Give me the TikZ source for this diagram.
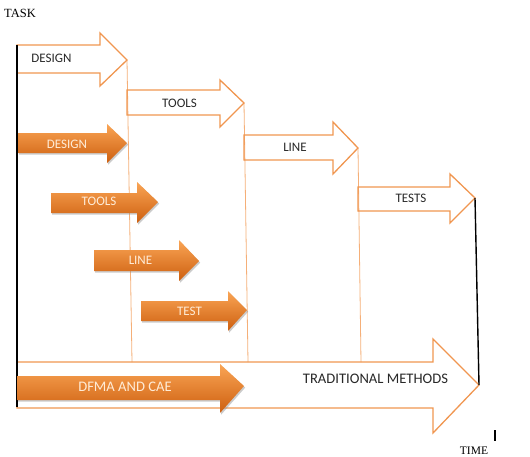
\documentclass[tikz,border=0pt]{standalone}
\usepackage{fontspec}
\setmainfont{Liberation Serif}
\newfontfamily\carl{Carlito}
\definecolor{outor}{RGB}{240,150,80}
\definecolor{thinor}{RGB}{245,175,120}
\definecolor{ortop}{RGB}{250,165,85}
\definecolor{ormid}{RGB}{242,130,38}
\definecolor{orbot}{RGB}{205,95,15}
\definecolor{wtext}{RGB}{255,236,215}
\definecolor{dtext}{RGB}{40,40,40}
% #1 options, #2 x0, #3 body top, #4 body bottom, #5 head base x, #6 head top, #7 head bottom, #8 tip x, #9 tip y
\newcommand{\outarrow}[9]{\draw[#1] (#2,#3) -- (#5,#3) -- (#5,#6) -- (#8,#9) -- (#5,#7) -- (#5,#4) -- (#2,#4) -- cycle;}
\newcommand{\solidarrow}[8]{%
  \fill[black!45,opacity=0.45,xshift=1.2pt,yshift=-1.6pt] (#1,#2) -- (#4,#2) -- (#4,#5) -- (#7,#8) -- (#4,#6) -- (#4,#3) -- (#1,#3) -- cycle;
  \shade[top color=ortop,middle color=ormid,bottom color=orbot] (#1,#2) -- (#4,#2) -- (#4,#5) -- (#7,#8) -- (#4,#6) -- (#4,#3) -- (#1,#3) -- cycle;}
\tikzset{
  outl/.style={draw=outor,line width=1.3pt,line join=miter},
  thin/.style={draw=thinor,line width=0.8pt},
  axis/.style={draw=black,line width=1.4pt},
  otext/.style={font=\carl\fontsize{13}{15}\selectfont,text=dtext,inner sep=0pt},
  ftext/.style={font=\carl\fontsize{13}{15}\selectfont,text=wtext,inner sep=0pt},
  bigtext/.style={font=\carl\fontsize{14.6}{16}\selectfont,inner sep=0pt},
  ltext/.style={font=\fontsize{12.5}{14}\selectfont,text=black,inner sep=0pt}
}
\begin{document}
\begin{tikzpicture}[x=1pt,y=-1pt]
\useasboundingbox (0,0) rectangle (530,456);
% thin guide lines
\coordinate (p1) at (127,60);
\coordinate (p2) at (244,103);
\coordinate (p3) at (358,148);
\coordinate (q1) at (132,362);
\coordinate (q2) at (248,362);
\coordinate (q3) at (361,362);
\draw[thin] (p1) -- (q1);
\draw[thin] (p2) -- (q2);
\draw[thin] (p3) -- (q3);
% outline arrows
\outarrow{outl}{17}{45}{73}{100}{33}{86}{127}{60}
\outarrow{outl}{127}{90}{115}{220}{80}{127}{244}{103}
\outarrow{outl}{244}{135}{160}{333}{122}{174}{358}{148}
\outarrow{outl}{358}{187}{211}{450}{174}{223}{475}{198}
\outarrow{outl}{17}{362}{408}{433}{339}{433}{479}{385}
% axes
\coordinate (a1) at (17,45);
\coordinate (a2) at (17,407);
\coordinate (b1) at (475,198);
\coordinate (b2) at (479,385);
\coordinate (c1) at (495,430);
\coordinate (c2) at (495,441);
\draw[axis] (a1) -- (a2);
\draw[axis] (b1) -- (b2);
\draw[black,line width=1.2pt] (c1) -- (c2);
% solid arrows
\solidarrow{18}{133}{153}{107}{124}{163}{127}{143}
\solidarrow{51}{193}{213}{137}{182}{223}{158}{202}
\solidarrow{94}{250}{271}{179}{240}{281}{199}{261}
\solidarrow{141}{301}{321}{228}{291}{331}{247}{310}
\solidarrow{17}{376}{400}{220}{364}{413}{244}{386}
% texts
\node[ltext] (task) at (20,13) {TASK};
\node[ltext,font=\fontsize{11.5}{13}\selectfont] (time) at (474,451) {TIME};
\node[otext] (o1) at (51.5,58) {DESIGN};
\node[otext] (o2) at (179.5,103) {TOOLS};
\node[otext] (o3) at (295,147) {LINE};
\node[otext] (o4) at (411,198) {TESTS};
\node[otext,bigtext] (o5) at (375.5,379) {TRADITIONAL METHODS};
\node[ftext] (f1) at (67,144) {DESIGN};
\node[ftext] (f2) at (99,201) {TOOLS};
\node[ftext] (f3) at (140.5,260.5) {LINE};
\node[ftext] (f4) at (189.5,311) {TEST};
\node[ftext,bigtext] (f5) at (125,387) {DFMA AND CAE};
\end{tikzpicture}
\end{document}
